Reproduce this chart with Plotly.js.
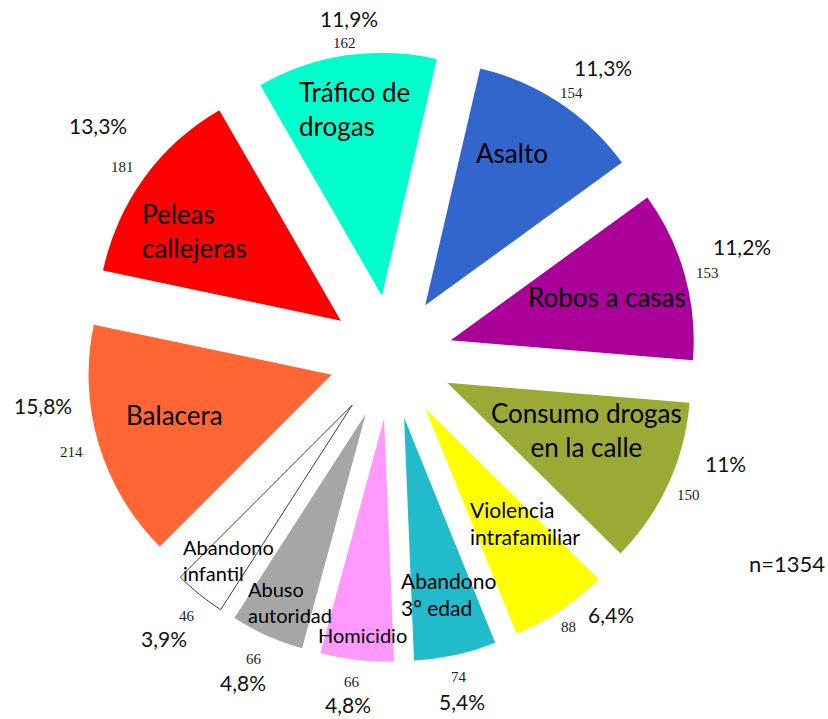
<!DOCTYPE html>
<html>
<head>
<meta charset="utf-8">
<script src="https://cdn.plot.ly/plotly-3.0.1.min.js"></script>
<style>html,body{margin:0;padding:0;background:#fff;}#chart{width:828px;height:719px;}</style>
</head>
<body>
<div id="chart"></div>
<script>
// ---- data ----
const categories = ["Tráfico de<br>drogas", "Asalto", "Robos a casas", "Consumo drogas<br>en la calle",
  "Violencia<br>intrafamiliar", "Abandono<br>3° edad", "Homicidio", "Abuso<br>autoridad",
  "Abandono<br>infantil", "Balacera", "Peleas<br>callejeras"];
const counts = [162, 154, 153, 150, 88, 74, 66, 66, 46, 214, 181];
const percentLabels = ["11,9%", "11,3%", "11,2%", "11%", "6,4%", "5,4%", "4,8%", "4,8%", "3,9%", "15,8%", "13,3%"];
const totalLabel = "n=1354";

// ---- style ----
const colors = ["#00FFCC", "#3366CC", "#AA0099", "#9AAA34", "#FFFF00", "#22BBCC", "#FF99FF", "#A6A6A6", "#FFFFFF", "#FF6633", "#FF0000"];
const lineWidths = [0, 0, 0, 0, 0, 0, 0, 0, 1, 0, 0];
const PULL = 0.255;
const ROTATION = -30;
const labelSizes = [26, 26, 26, 26, 21, 21, 20, 20, 20, 26, 26];
const labelAlign = ["left", "center", "center", "center", "left", "left", "center", "left", "left", "center", "left"];
// placement: [angle offset from slice middle (deg), distance from centre in radii]
const labelPlace = [[0, 1.03], [-2.9, 0.975], [0.1, 0.922], [-4.2, 0.86], [-5.2, 0.877], [-1.4, 1.004],
  [-0.5, 1.152], [-1.5, 1.091], [-0.1, 1.07], [1.6, 0.924], [-3.3, 0.962]];
const pctPlace = [[1.4, 1.405], [2.6, 1.477], [-1.8, 1.514], [-7.0, 1.444], [-6.8, 1.395], [0.6, 1.445],
  [0.7, 1.44], [0.5, 1.471], [0, 1.49], [8.6, 1.444], [2.4, 1.535]];
const cntPlace = [[0, 1.305], [0.8, 1.317], [0.7, 1.346], [0.2, 1.35], [0.3, 1.329], [0.1, 1.346],
  [0.5, 1.346], [0.4, 1.362], [-0.7, 1.358], [0, 1.37], [-0.7, 1.354]];

const total = counts.reduce((a, b) => a + b, 0);
let acc = ROTATION;
const mids = counts.map(v => { const m = acc + v / total * 180; acc += v / total * 360; return m; });
const k = 1 / (2 * (1 + PULL));
function toPaper(deg, rr) {
  const a = deg * Math.PI / 180;
  return { x: 0.5 + rr * k * Math.sin(a), y: 0.5 + rr * k * Math.cos(a) };
}

const annotations = [];
categories.forEach((c, i) => {
  const p = toPaper(mids[i] + labelPlace[i][0], labelPlace[i][1]);
  annotations.push({ x: p.x, y: p.y, xref: "paper", yref: "paper", text: c, showarrow: false,
    xanchor: "center", yanchor: "middle", align: labelAlign[i],
    font: { family: "Lato, 'Open Sans', sans-serif", size: labelSizes[i], color: "#000" } });
  const q = toPaper(mids[i] + pctPlace[i][0], pctPlace[i][1]);
  annotations.push({ x: q.x, y: q.y, xref: "paper", yref: "paper", text: percentLabels[i], showarrow: false,
    xanchor: "center", yanchor: "middle",
    font: { family: "Lato, 'Open Sans', sans-serif", size: 21, color: "#111" } });
  const r = toPaper(mids[i] + cntPlace[i][0], cntPlace[i][1]);
  annotations.push({ x: r.x, y: r.y, xref: "paper", yref: "paper", text: String(counts[i]), showarrow: false,
    xanchor: "center", yanchor: "middle",
    font: { family: "'Liberation Serif', 'Times New Roman', serif", size: 15, color: "#222" } });
});
annotations.push({ x: (787 - 86) / 610, y: 1 - (563 - 52) / 610, xref: "paper", yref: "paper",
  text: totalLabel, showarrow: false, xanchor: "center", yanchor: "middle",
  font: { family: "Lato, 'Open Sans', sans-serif", size: 22, color: "#111" } });

const trace = {
  type: "pie",
  values: counts,
  labels: categories,
  sort: false,
  direction: "clockwise",
  rotation: ROTATION,
  pull: counts.map(() => PULL),
  marker: { colors: colors, line: { color: "#4a3a3a", width: lineWidths } },
  textinfo: "none",
  hoverinfo: "skip",
  domain: { x: [0, 1], y: [0, 1] }
};

const layout = {
  width: 828, height: 719,
  margin: { l: 86, r: 132, t: 52, b: 57 },
  showlegend: false,
  paper_bgcolor: "#fff",
  plot_bgcolor: "#fff",
  annotations: annotations
};

Plotly.newPlot("chart", [trace], layout, { displayModeBar: false, staticPlot: true });
</script>
</body>
</html>
